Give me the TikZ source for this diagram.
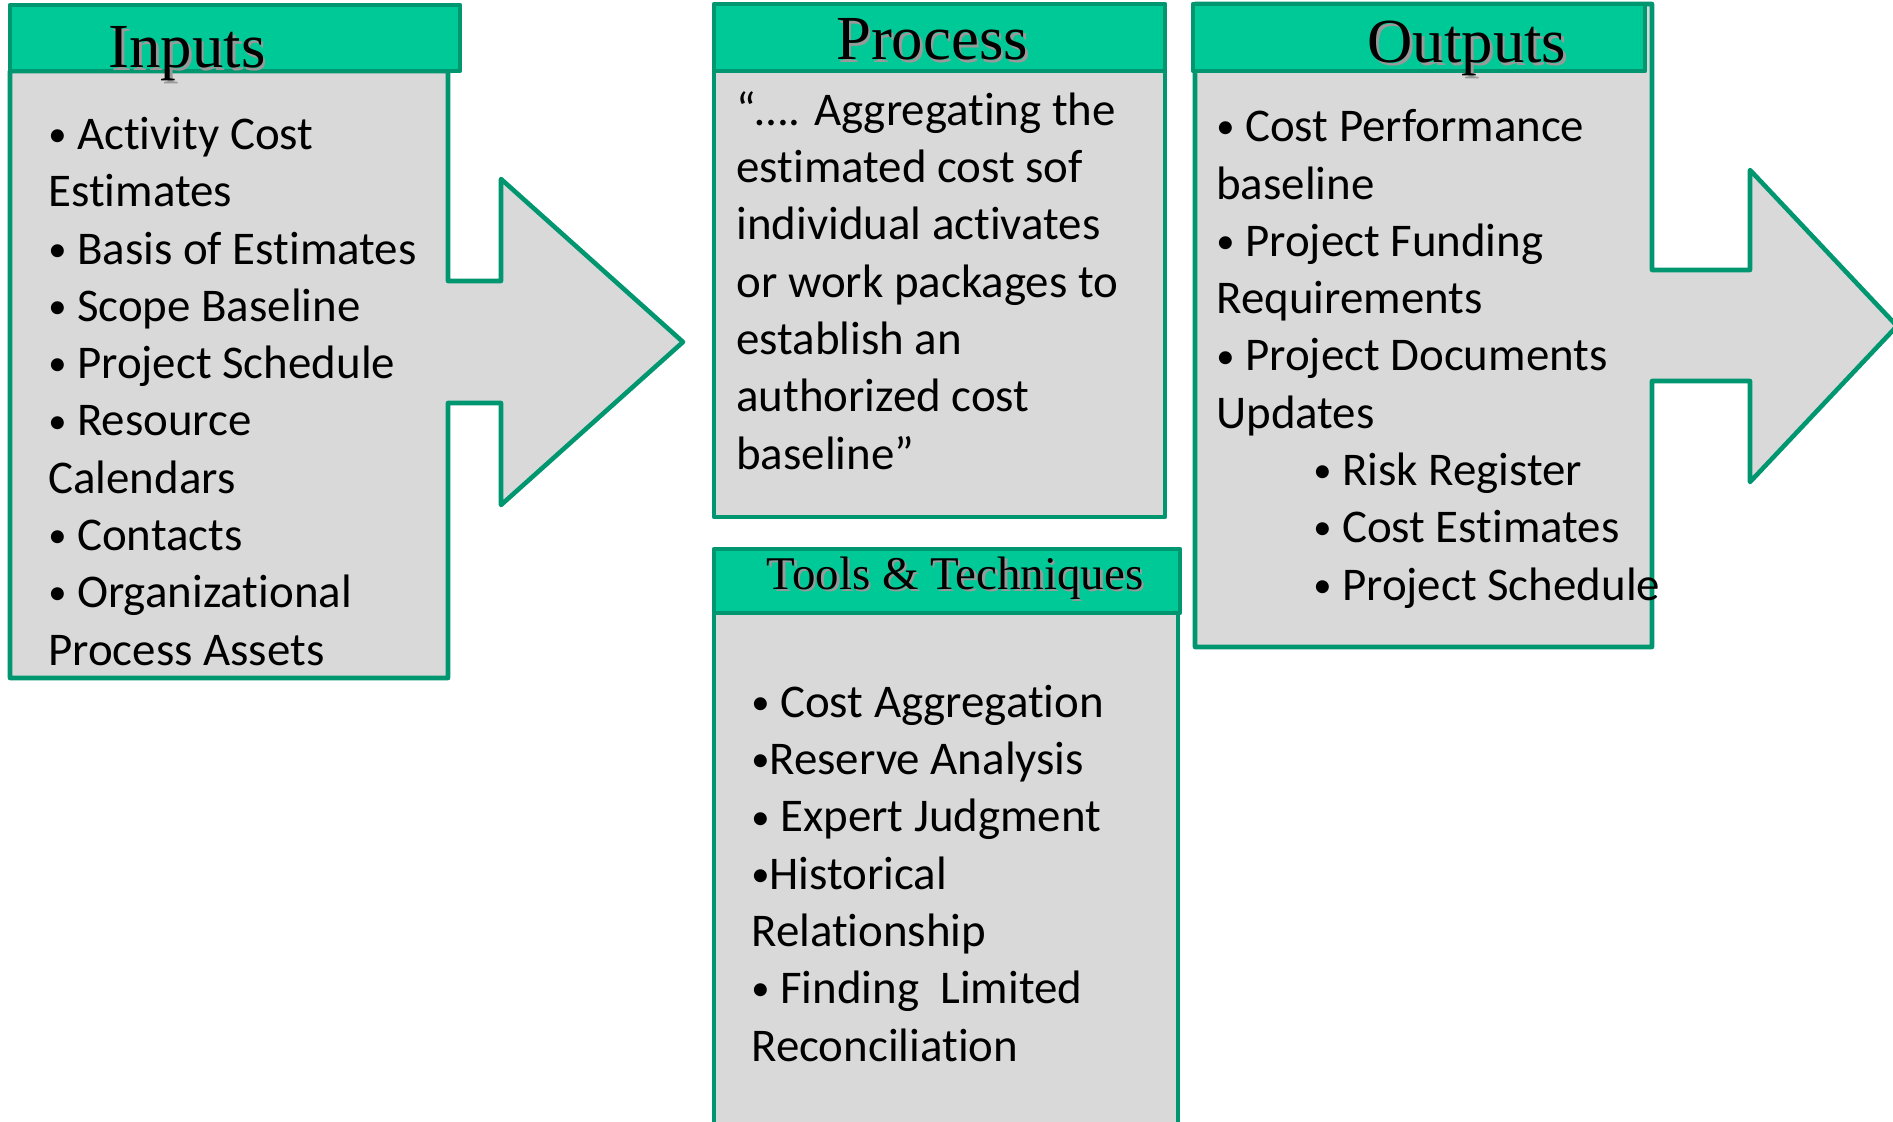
\documentclass[tikz,border=0pt]{standalone}
\usepackage{fontspec}
\setmainfont{Liberation Serif}
\newfontfamily\calibri[Ligatures=NoCommon]{Carlito}
\usepackage{tikz}
\usetikzlibrary{positioning,calc}
\tikzstyle{bodybox} = [draw=boxgreen, line width=2.6pt, fill=boxgrey, line join=round]
\tikzstyle{headbox} = [draw=boxgreen, line width=2.6pt, fill=headgreen, line join=round]
\tikzstyle{title} = [font=\fontsize{35.7}{40}\selectfont, anchor=base, inner sep=0pt]
\tikzstyle{listtext} = [font=\calibri\fontsize{26.7}{32.6}\selectfont, align=left, anchor=base west, inner sep=0pt]
\newcommand{\shadowed}[1]{\makebox[0pt][l]{\raisebox{-1.5pt}{\hspace{1.5pt}\color{black!40}#1}}#1}
\newcommand{\blt}{\raisebox{0.06em}{\scalebox{0.78}{•}}}

\begin{document}
\begin{tikzpicture}[x=0.02cm, y=-0.02cm]
\definecolor{headgreen}{RGB}{0,201,152}
\definecolor{boxgreen}{RGB}{0,150,112}
\definecolor{boxgrey}{RGB}{217,217,217}
\useasboundingbox (0,0) rectangle (1893,1122);
\clip (0,0) rectangle (1893,1122);
% inputs (list placed by its last baseline)
\draw[bodybox] (10,71) -- (448,71) -- (448,281) -- (501,281) -- (501,179) -- (683,342) -- (501,505) -- (501,403) -- (448,403) -- (448,678) -- (10,678) -- cycle;
\draw[headbox] (10,5) rectangle (460,71);
\node[title] (inputs) at (187,68) {\shadowed{Inputs}};
\node[listtext] (inputlist) at (48,665) {\blt{} Activity Cost\\Estimates\\\blt{} Basis of Estimates\\\blt{} Scope Baseline\\\blt{} Project Schedule\\\blt{} Resource\\Calendars\\\blt{} Contacts\\\blt{} Organizational\\Process Assets};
% process
\draw[bodybox] (714,71) rectangle (1165,517);
\draw[headbox] (714,4) rectangle (1165,71);
\node[title] (process) at (932,60) {\shadowed{Process}};
\node[listtext] (processtext) at (736,469) {“…. Aggregating the\\estimated cost sof\\individual activates\\or work packages to\\establish an\\authorized cost\\baseline”};
% tools and techniques
\draw[bodybox] (714,613) rectangle (1178,1140);
\draw[headbox] (714,549) rectangle (1180,613);
\node[title, font=\fontsize{26.7}{30}\selectfont] (tools) at (955,589) {\shadowed{Tools \& Techniques}};
\node[listtext] (toollist) at (751,1061) {\blt{} Cost Aggregation\\\blt{}Reserve Analysis\\\blt{} Expert Judgment\\\blt{}Historical\\Relationship\\\blt{} Finding\ \ Limited\\Reconciliation};
% outputs
\draw[bodybox] (1195,4) -- (1652,4) -- (1652,270) -- (1750,270) -- (1750,170) -- (1897,326) -- (1750,482) -- (1750,381) -- (1652,381) -- (1652,647) -- (1195,647) -- cycle;
\draw[headbox] (1193,4) rectangle (1645,71);
\node[title] (outputs) at (1467,63) {\shadowed{Outputs}};
\node[listtext] (outputlist) at (1216,600) {\blt{} Cost Performance\\baseline\\\blt{} Project Funding\\Requirements\\\blt{} Project Documents\\Updates\\\hspace*{1.94cm}\blt{} Risk Register\\\hspace*{1.94cm}\blt{} Cost Estimates\\\hspace*{1.94cm}\blt{} Project Schedule};
\end{tikzpicture}
\end{document}
